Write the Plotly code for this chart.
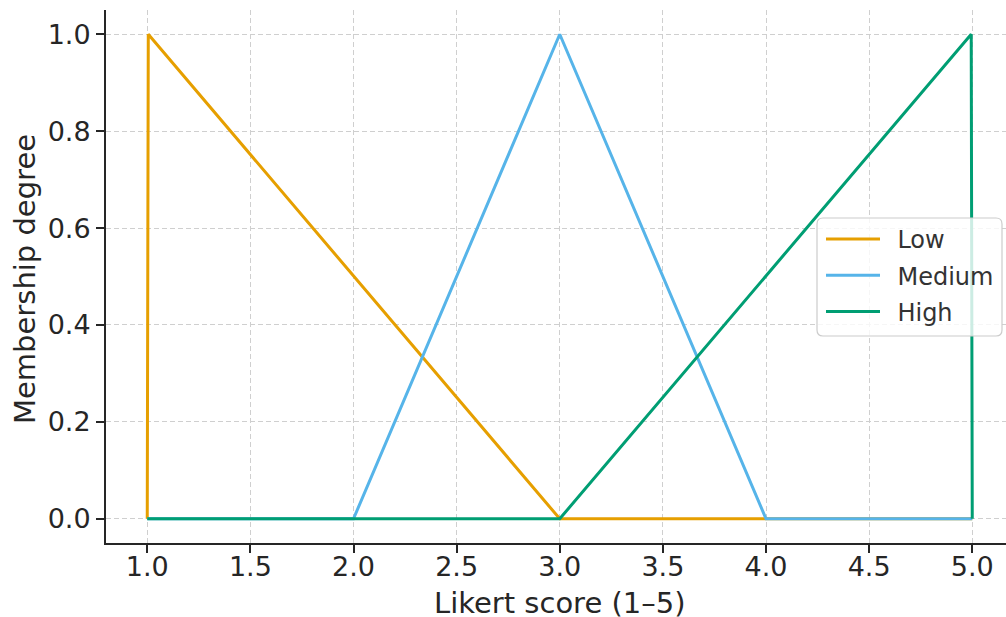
import plotly.graph_objects as go

# ---- data ----
series_names = ["Low", "Medium", "High"]
low_x = [1.0, 1.005, 3.0, 4.0, 5.0]
low_y = [0.0, 1.0, 0.0, 0.0, 0.0]
medium_x = [1.0, 2.0, 3.0, 4.0, 5.0]
medium_y = [0.0, 0.0, 1.0, 0.0, 0.0]
high_x = [1.0, 3.0, 4.995, 5.0]
high_y = [0.0, 0.0, 1.0, 0.0]
x_ticks = [1.0, 1.5, 2.0, 2.5, 3.0, 3.5, 4.0, 4.5, 5.0]
y_ticks = [0.0, 0.2, 0.4, 0.6, 0.8, 1.0]
colors = ["#E69F00", "#56B4E9", "#009E73"]

FONT = "DejaVu Sans"
TXT = "#262626"

fig = go.Figure()
for name, xs, ys, c in zip(series_names, [low_x, medium_x, high_x],
                           [low_y, medium_y, high_y], colors):
    fig.add_trace(go.Scatter(x=xs, y=ys, mode="lines",
                             name="\u00a0\u2009" + name,
                             legendgroup=name,
                             line=dict(color=c, width=3)))

axis_common = dict(
    showline=True, linewidth=2, linecolor=TXT, mirror=False,
    ticks="outside", ticklen=8, tickwidth=1.5, tickcolor=TXT,
    showgrid=True, gridcolor="#cfcfcf", gridwidth=1, griddash="5px,3px",
    zeroline=False,
    tickfont=dict(family=FONT, size=27, color=TXT),
)

fig.update_layout(
    width=1006, height=617,
    margin=dict(l=106, r=0, t=10, b=74, pad=0),
    paper_bgcolor="white", plot_bgcolor="white",
    font=dict(family=FONT, color=TXT),
    xaxis=dict(range=[0.8, 0.8 + 900 / 206.25], tickvals=x_ticks,
               ticktext=[f"{v:.1f}" for v in x_ticks],
               ticklabelstandoff=-9, **axis_common),
    yaxis=dict(range=[-0.05, 1.05], tickvals=y_ticks,
               ticktext=[f"{v:.1f}" for v in y_ticks], **axis_common),
    legend=dict(x=(821 - 106) / 900, y=(543 - 217) / 533,
                xanchor="left", yanchor="top",
                bgcolor="rgba(0,0,0,0)", borderwidth=0,
                font=dict(family=FONT, size=24, color="#333333"),
                itemwidth=54, tracegroupgap=2),
    showlegend=True,
)

# rounded semi-transparent legend frame
x0, x1, y0, y1 = 817, 1002, 218, 336
r = 6
def px(x):
    return (x - 106) / 900
def py(y):
    return (543 - y) / 533
fig.add_shape(
    type="path", xref="paper", yref="paper", layer="above",
    path=(f"M{px(x0+r)},{py(y0)} L{px(x1-r)},{py(y0)} "
          f"Q{px(x1)},{py(y0)} {px(x1)},{py(y0+r)} "
          f"L{px(x1)},{py(y1-r)} "
          f"Q{px(x1)},{py(y1)} {px(x1-r)},{py(y1)} "
          f"L{px(x0+r)},{py(y1)} "
          f"Q{px(x0)},{py(y1)} {px(x0)},{py(y1-r)} "
          f"L{px(x0)},{py(y0+r)} "
          f"Q{px(x0)},{py(y0)} {px(x0+r)},{py(y0)} Z"),
    fillcolor="rgba(255,255,255,0.8)", line=dict(color="#cccccc", width=1.2),
)

fig.add_annotation(text="Likert score (1–5)", xref="paper", yref="paper",
                   x=px(560), y=py(603),
                   xanchor="center", yanchor="middle", showarrow=False,
                   font=dict(family=FONT, size=29, color=TXT))
fig.add_annotation(text="Membership degree", xref="paper", yref="paper",
                   x=px(25), y=py(279), textangle=-90,
                   xanchor="center", yanchor="middle", showarrow=False,
                   font=dict(family=FONT, size=29, color=TXT))

fig.write_html("out.html", config={"displayModeBar": False},
               post_script="document.body.style.margin='0';"
                           "document.body.style.overflow='hidden';")
